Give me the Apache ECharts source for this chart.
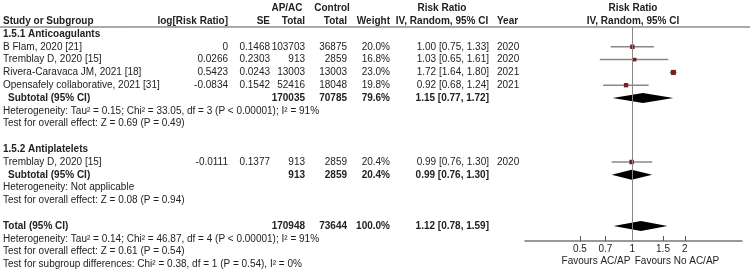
<!DOCTYPE html>
<html>
<head>
<meta charset="utf-8">
<script src="https://cdn.jsdelivr.net/npm/echarts@6/dist/echarts.min.js"></script>
<style>
  html, body { margin: 0; padding: 0; background: #fff; }
  #main { width: 750px; height: 273px; }
</style>
</head>
<body>
<div id="main"></div>
<script>
// studies
var studyNames = ['B Flam, 2020 [21]', 'Tremblay D, 2020 [15]', 'Rivera-Caravaca JM, 2021 [18]', 'Opensafely collaborative, 2021 [31]', 'Tremblay D, 2020 [15]'];
var studyRows = [2, 3, 4, 5, 11];
var logRR = ['0', '0.0266', '0.5423', '-0.0834', '-0.0111'];
var seVals = ['0.1468', '0.2303', '0.0243', '0.1542', '0.1377'];
var acTotal = [103703, 913, 13003, 52416, 913];
var ctrlTotal = [36875, 2859, 13003, 18048, 2859];
var weights = [20.0, 16.8, 23.0, 19.8, 20.4];
var rr = [1.00, 1.03, 1.72, 0.92, 0.99];
var rrLo = [0.75, 0.65, 1.64, 0.68, 0.76];
var rrHi = [1.33, 1.61, 1.80, 1.24, 1.30];
var years = [2020, 2020, 2021, 2021, 2020];

// pooled estimates (subtotals and total)
var poolNames = ['Subtotal (95% CI)', 'Subtotal (95% CI)', 'Total (95% CI)'];
var poolRows = [6, 12, 16];
var poolAc = [170035, 913, 170948];
var poolCtrl = [70785, 2859, 73644];
var poolWeight = [79.6, 20.4, 100.0];
var poolRR = [1.15, 0.99, 1.12];
var poolLo = [0.77, 0.76, 0.78];
var poolHi = [1.72, 1.30, 1.59];

var groupNames = ['1.5.1 Anticoagulants', '1.5.2 Antiplatelets'];
var groupRows = [1, 10];

var noteRows = [7, 8, 13, 14, 17, 18, 19];
var noteTexts = [
  'Heterogeneity: Tau\u00b2 = 0.15; Chi\u00b2 = 33.05, df = 3 (P < 0.00001); I\u00b2 = 91%',
  'Test for overall effect: Z = 0.69 (P = 0.49)',
  'Heterogeneity: Not applicable',
  'Test for overall effect: Z = 0.08 (P = 0.94)',
  'Heterogeneity: Tau\u00b2 = 0.14; Chi\u00b2 = 46.87, df = 4 (P < 0.00001); I\u00b2 = 91%',
  'Test for overall effect: Z = 0.61 (P = 0.54)',
  'Test for subgroup differences: Chi\u00b2 = 0.38, df = 1 (P = 0.54), I\u00b2 = 0%'
];

var tickValues = [0.5, 0.7, 1, 1.5, 2];
var favours = ['Favours AC/AP', 'Favours No AC/AP'];

// column layout (pixels)
var col = {study: 3, sub: 8, logrr: 228, se: 270, ac: 305, ctrl: 347, weight: 390,
  ci: 489, year: 497, rrHead: 442, plotHead: 633, acHead: 287, ctrlHead: 332,
  favL: 596, favR: 677};

function ci(a, b, c) {
  return a.toFixed(2) + ' [' + b.toFixed(2) + ', ' + c.toFixed(2) + ']';
}

// build table texts
var texts = [];
function t(x, row, s, align, bold) {
  texts.push({x: x, row: row, s: String(s), align: align || 'left', bold: !!bold});
}
t(col.acHead, -1, 'AP/AC', 'center', true);
t(col.ctrlHead, -1, 'Control', 'center', true);
t(col.rrHead, -1, 'Risk Ratio', 'center', true);
t(col.plotHead, -1, 'Risk Ratio', 'center', true);
t(col.study, 0, 'Study or Subgroup', 'left', true);
t(col.logrr, 0, 'log[Risk Ratio]', 'right', true);
t(col.se, 0, 'SE', 'right', true);
t(col.ac, 0, 'Total', 'right', true);
t(col.ctrl, 0, 'Total', 'right', true);
t(col.weight, 0, 'Weight', 'right', true);
t(col.rrHead, 0, 'IV, Random, 95% CI', 'center', true);
t(col.year, 0, 'Year', 'left', true);
t(col.plotHead, 0, 'IV, Random, 95% CI', 'center', true);

for (var g = 0; g < groupNames.length; g++) t(col.study, groupRows[g], groupNames[g], 'left', true);
for (var i = 0; i < studyNames.length; i++) {
  var r = studyRows[i];
  t(col.study, r, studyNames[i]);
  t(col.logrr, r, logRR[i], 'right');
  t(col.se, r, seVals[i], 'right');
  t(col.ac, r, acTotal[i], 'right');
  t(col.ctrl, r, ctrlTotal[i], 'right');
  t(col.weight, r, weights[i].toFixed(1) + '%', 'right');
  t(col.ci, r, ci(rr[i], rrLo[i], rrHi[i]), 'right');
  t(col.year, r, years[i]);
}
for (var p = 0; p < poolNames.length; p++) {
  var pr = poolRows[p];
  t(p < 2 ? col.sub : col.study, pr, poolNames[p], 'left', true);
  t(col.ac, pr, poolAc[p], 'right', true);
  t(col.ctrl, pr, poolCtrl[p], 'right', true);
  t(col.weight, pr, poolWeight[p].toFixed(1) + '%', 'right', true);
  t(col.ci, pr, ci(poolRR[p], poolLo[p], poolHi[p]), 'right', true);
}
for (var n = 0; n < noteTexts.length; n++) t(col.study, noteRows[n], noteTexts[n]);
t(col.favL, 18.75, favours[0], 'center');
t(col.favR, 18.75, favours[1], 'center');

var FONT = '"Liberation Sans", Arial, sans-serif';
var TXT = '#222';

var log10 = function(v) { return Math.log(v) / Math.LN10; };

var option = {
  animation: false,
  grid: [
    {left: 0, top: 0, width: 750, height: 273},
    {left: 525, top: 27, width: 217, height: 214}
  ],
  xAxis: [
    {gridIndex: 0, type: 'value', min: 0, max: 750, show: false},
    {gridIndex: 1, type: 'value', min: -0.617, max: 0.630,
      axisLine: {show: true, lineStyle: {color: '#777', width: 1.5}},
      axisTick: {show: true, inside: true, length: 5, lineStyle: {color: '#555'},
        customValues: tickValues.map(log10)},
      axisLabel: {show: true, margin: 3, fontSize: 10, fontFamily: FONT, color: TXT,
        customValues: tickValues.map(log10),
        formatter: function(v) { return String(Math.round(Math.pow(10, v) * 10) / 10); }},
      splitLine: {show: false}}
  ],
  yAxis: [
    {gridIndex: 0, type: 'value', inverse: true, min: -1.656, max: 19.672, show: false},
    {gridIndex: 1, type: 'value', inverse: true, min: 0.453, max: 17.17, show: false}
  ],
  series: [
    {
      type: 'line', xAxisIndex: 0, yAxisIndex: 0, silent: true,
      data: [[0, 0.453], [750, 0.453]], symbol: 'none',
      lineStyle: {color: '#555', width: 1}
    },
    {
      type: 'custom', xAxisIndex: 0, yAxisIndex: 0, silent: true,
      data: texts.map(function(d) { return [d.x, d.row]; }),
      renderItem: function(params, api) {
        var d = texts[params.dataIndex];
        var pt = api.coord([api.value(0), api.value(1)]);
        return {type: 'text', x: pt[0], y: pt[1], style: {
          text: d.s, fill: TXT, align: d.align, verticalAlign: 'middle',
          font: (d.bold ? 'bold ' : '') + '10px ' + FONT}};
      }
    },
    {
      type: 'custom', xAxisIndex: 1, yAxisIndex: 1, silent: true,
      data: rr.map(function(v, k) { return [log10(rrLo[k]), log10(rrHi[k]), log10(v), studyRows[k], weights[k]]; }),
      renderItem: function(params, api) {
        var a = api.coord([api.value(0), api.value(3)]);
        var b = api.coord([api.value(1), api.value(3)]);
        var c = api.coord([api.value(2), api.value(3)]);
        var s = api.value(4) * 0.22;
        return {type: 'group', children: [
          {type: 'line', shape: {x1: a[0], y1: a[1], x2: b[0], y2: b[1]},
            style: {stroke: '#888', lineWidth: 1.5}},
          {type: 'rect', shape: {x: c[0] - s / 2, y: c[1] - s / 2, width: s, height: s},
            style: {fill: '#7b1e1e'}}
        ]};
      },
      markLine: {
        silent: true, symbol: 'none', label: {show: false},
        lineStyle: {color: '#888', width: 1, type: 'solid'},
        data: [{xAxis: 0}]
      }
    },
    {
      type: 'custom', xAxisIndex: 1, yAxisIndex: 1, silent: true,
      data: poolRR.map(function(v, k) { return [log10(poolLo[k]), log10(poolHi[k]), log10(v), poolRows[k]]; }),
      renderItem: function(params, api) {
        var a = api.coord([api.value(0), api.value(3)]);
        var b = api.coord([api.value(1), api.value(3)]);
        var c = api.coord([api.value(2), api.value(3)]);
        var h = 5;
        return {type: 'polygon', shape: {points: [[a[0], a[1]], [c[0], c[1] - h], [b[0], b[1]], [c[0], c[1] + h]]},
          style: {fill: '#000'}};
      }
    }
  ]
};

var chart = echarts.init(document.getElementById('main'));
chart.setOption(option);
</script>
</body>
</html>
